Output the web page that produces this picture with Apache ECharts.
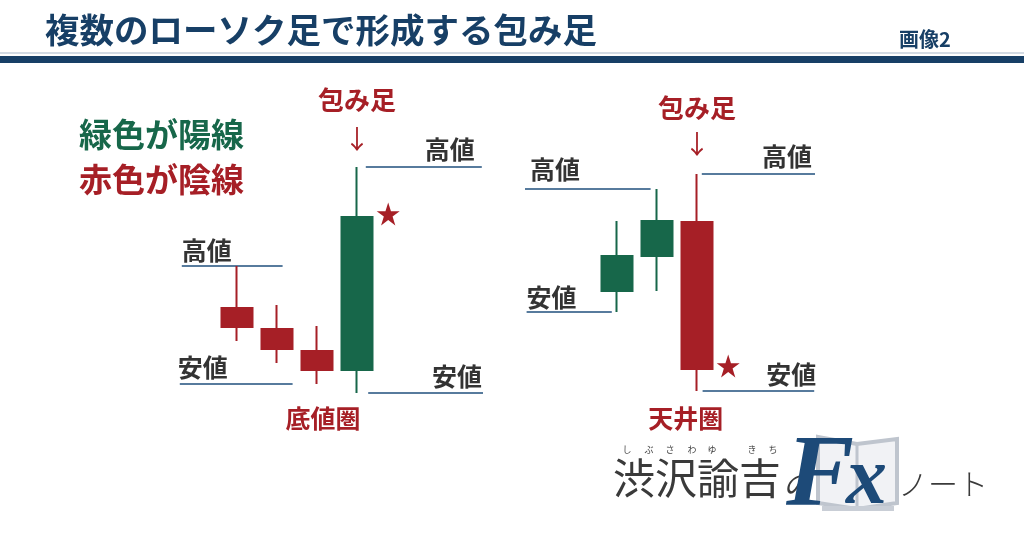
<!DOCTYPE html>
<html><head><meta charset="utf-8">
<script src="https://cdn.jsdelivr.net/npm/echarts@6/dist/echarts.min.js"></script>
<style>html,body{margin:0;padding:0;background:#fff}#c{width:1024px;height:538px}</style>
</head><body><div id="c"></div>
<script>
// ---------------- data (abstract price units) ----------------
// each candle: [open, close, low, high]
const bottomSlots = [0, 1, 2, 3];
const bottomCandles = [
  [115, 105.5, 98.5, 136],
  [104.5, 94.5, 87.5, 116.5],
  [93.5, 84, 77, 106],
  [84, 160.5, 72.5, 185.5]
];
const topSlots = [9.5, 10.5, 11.5];
const topCandles = [
  [123.5, 141, 113, 158.5],
  [141, 158.5, 123.5, 174.5],
  [158, 84.5, 73.5, 182]
];
const titleText = '複数のローソク足で形成する包み足';
const imageLabel = '画像2';
const legendTexts = ['緑色が陽線', '赤色が陰線'];
const guideNames = ['高値', '安値'];
const engulfLabel = '包み足';
const zoneLabels = ['底値圏', '天井圏'];
const logoKanji = '渋沢諭吉';
const logoRuby = ['し', 'ぶ', 'さ', 'わ', 'ゆ', 'き', 'ち'];

// ---------------- styles / layout ----------------
const GREEN = '#17674a', RED = '#a61f26', NAVY = '#173f66', LINE = '#1f4f7d', GRAY = '#333333';
const JP = '"Noto Sans CJK JP", sans-serif';
const LOW = 2, HIGH = 3, CLOSE = 1;

const guides = [
  { c: bottomCandles, s: bottomSlots, i: 0, f: HIGH, x0: -1.38, x1: 1.14, at: 'start', dx: 0, dy: -16, n: 0 },
  { c: bottomCandles, s: bottomSlots, i: 2, f: LOW, x0: -1.43, x1: 1.39, at: 'start', dx: -2, dy: -17, n: 1 },
  { c: bottomCandles, s: bottomSlots, i: 3, f: HIGH, x0: 3.22, x1: 6.12, at: 'end', dx: -7, dy: -18, n: 0 },
  { c: bottomCandles, s: bottomSlots, i: 3, f: LOW, x0: 3.28, x1: 6.15, at: 'end', dx: -1, dy: -17, n: 1 },
  { c: topCandles, s: topSlots, i: 1, f: HIGH, x0: 7.2, x1: 10.34, at: 'start', dx: 5, dy: -20, n: 0 },
  { c: topCandles, s: topSlots, i: 0, f: LOW, x0: 7.24, x1: 9.37, at: 'start', dx: 0, dy: -15, n: 1 },
  { c: topCandles, s: topSlots, i: 2, f: HIGH, x0: 11.62, x1: 14.45, at: 'end', dx: -3, dy: -18, n: 0 },
  { c: topCandles, s: topSlots, i: 2, f: LOW, x0: 11.64, x1: 14.43, at: 'end', dx: 2, dy: -17, n: 1 }
];

const candleData = [];
bottomCandles.forEach((d, k) => candleData.push([bottomSlots[k], ...d]));
topCandles.forEach((d, k) => candleData.push([topSlots[k], ...d]));

const series = [];
series.push({
  type: 'candlestick', data: candleData, barWidth: 32,
  itemStyle: { color: GREEN, color0: RED, borderColor: GREEN, borderColor0: RED, borderWidth: 2 },
  z: 3
});

const guideLabelData = [];
guides.forEach(g => {
  const y = g.c[g.i][g.f];
  series.push({
    type: 'line', data: [[g.x0, y], [g.x1, y]], symbol: 'none',
    lineStyle: { color: LINE, width: 1.6 }, z: 2, silent: true
  });
  guideLabelData.push({
    value: [g.at === 'start' ? g.x0 : g.x1, y],
    label: { align: g.at === 'start' ? 'left' : 'right', offset: [g.dx, g.dy], formatter: guideNames[g.n] }
  });
});
series.push({
  type: 'scatter', data: guideLabelData, symbolSize: 1, itemStyle: { color: 'rgba(0,0,0,0)', opacity: 1 }, z: 5,
  label: { show: true, position: 'inside', verticalAlign: 'middle', color: GRAY, opacity: 1,
    fontFamily: JP, fontWeight: 'bold', fontSize: 25 }
});

// stars beside the engulfing candles' close
const starPath = 'path://M50,0 L62,36 L100,36 L69,58 L81,95 L50,72 L19,95 L31,58 L0,36 L38,36 Z';
series.push({
  type: 'scatter', symbol: starPath, symbolSize: 23, symbolOffset: [0, -3],
  itemStyle: { color: RED, opacity: 1 }, z: 6,
  data: [[bottomSlots[3] + 0.78, bottomCandles[3][CLOSE]], [topSlots[2] + 0.78, topCandles[2][CLOSE]]]
});

// annotation texts anchored to the engulfing candles
const noteData = [
  { value: [bottomSlots[3], bottomCandles[3][HIGH]], label: { formatter: engulfLabel, offset: [0, -67] } },
  { value: [bottomSlots[3], bottomCandles[3][HIGH]], label: { formatter: '↓', offset: [0, -28], fontWeight: 'normal', fontSize: 26 } },
  { value: [topSlots[2], topCandles[2][HIGH]], label: { formatter: engulfLabel, offset: [0, -66] } },
  { value: [topSlots[2], topCandles[2][HIGH]], label: { formatter: '↓', offset: [0, -30], fontWeight: 'normal', fontSize: 26 } },
  { value: [2.15, bottomCandles[3][LOW]], label: { formatter: zoneLabels[0], offset: [0, 25], fontSize: 25 } },
  { value: [11.22, topCandles[2][LOW]], label: { formatter: zoneLabels[1], offset: [0, 27], fontSize: 25 } }
];
series.push({
  type: 'scatter', data: noteData, symbolSize: 1, itemStyle: { color: 'rgba(0,0,0,0)', opacity: 1 }, z: 5,
  label: { show: true, position: 'inside', align: 'center', verticalAlign: 'middle', color: RED, opacity: 1,
    fontFamily: JP, fontWeight: 'bold', fontSize: 26 }
});

// ---------------- decoration (header, legend text, logo) ----------------
const rubyX = [627, 649, 670, 692, 712, 752, 773];
const graphic = [
  { type: 'rect', shape: { x: 0, y: 52, width: 1024, height: 2 }, style: { fill: '#d3dbe4' } },
  { type: 'rect', shape: { x: 0, y: 56, width: 1024, height: 7 }, style: { fill: NAVY } },
  { type: 'text', style: { x: 45, y: 30, text: titleText, fill: NAVY, font: 'bold 34.5px ' + JP, verticalAlign: 'middle', textVerticalAlign: 'middle' } },
  { type: 'text', style: { x: 899, y: 39, text: imageLabel, fill: NAVY, font: 'bold 20px ' + JP, verticalAlign: 'middle', textVerticalAlign: 'middle' } },
  { type: 'text', style: { x: 79, y: 134, text: legendTexts[0], fill: GREEN, font: 'bold 33px ' + JP, verticalAlign: 'middle', textVerticalAlign: 'middle' } },
  { type: 'text', style: { x: 79, y: 179, text: legendTexts[1], fill: RED, font: 'bold 33px ' + JP, verticalAlign: 'middle', textVerticalAlign: 'middle' } },
  // logo: open book
  { type: 'polygon', shape: { points: [[818, 437], [857, 444], [897, 439], [897, 503], [857, 509], [818, 503]] },
    style: { fill: '#f1f2f5', stroke: '#bfc5ce', lineWidth: 4 } },
  { type: 'line', shape: { x1: 857, y1: 444, x2: 857, y2: 509 }, style: { stroke: '#bfc5ce', lineWidth: 3 } },
  { type: 'rect', shape: { x: 822, y: 506, width: 72, height: 5 }, style: { fill: '#c9ced6' } },
  { type: 'text', style: { x: 613, y: 478, text: logoKanji, fill: '#3a3a3a', font: '42px ' + JP, verticalAlign: 'middle', textVerticalAlign: 'middle' } },
  { type: 'text', style: { x: 783, y: 484, text: 'の', fill: '#3a3a3a', font: 'italic 28px ' + JP, verticalAlign: 'middle', textVerticalAlign: 'middle' } },
  { type: 'text', style: { x: 786, y: 530, text: 'F', fill: '#1d4a78', font: 'italic bold 102px "Liberation Serif", serif', verticalAlign: 'bottom', textVerticalAlign: 'bottom' } },
  { type: 'text', style: { x: 846, y: 523, text: 'x', fill: '#1d4a78', font: 'italic bold 82px "Liberation Serif", serif', verticalAlign: 'bottom', textVerticalAlign: 'bottom' } },
  { type: 'text', style: { x: 898, y: 484, text: 'ノート', fill: '#3a3a3a', font: '300 30px ' + JP, verticalAlign: 'middle', textVerticalAlign: 'middle' } }
];
logoRuby.forEach((ch, k) => graphic.push({ type: 'text', style: { x: rubyX[k], y: 450, text: ch, fill: '#444', font: '9px ' + JP, align: 'center', textAlign: 'center', verticalAlign: 'middle', textVerticalAlign: 'middle' } }));

const chart = echarts.init(document.getElementById('c'), null, { renderer: 'canvas' });
chart.setOption({
  animation: false,
  backgroundColor: '#ffffff',
  grid: { left: 0, right: 0, top: 0, bottom: 0 },
  xAxis: { type: 'value', min: -5.925, max: 19.675, show: false },
  yAxis: { type: 'value', min: 0, max: 269, show: false },
  series: series,
  graphic: graphic
});
</script></body></html>
